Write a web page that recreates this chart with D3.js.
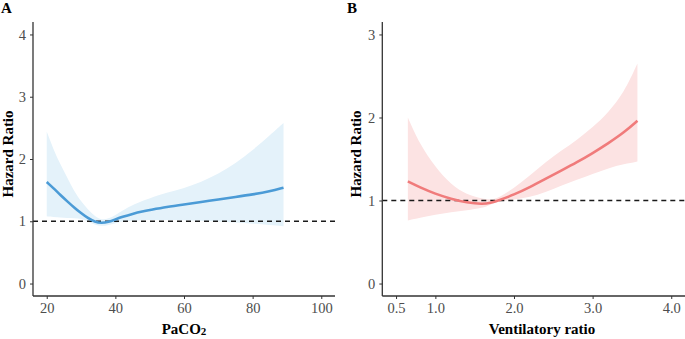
<!DOCTYPE html>
<html>
<head>
<meta charset="utf-8">
<script src="https://cdn.jsdelivr.net/npm/d3@7"></script>
<style>
  html, body { margin: 0; padding: 0; background: #fff; }
  svg { display: block; }
</style>
</head>
<body>
<svg id="chart" width="685" height="339"></svg>
<script>
// ---- Panel A data (PaCO2) ----
const paco2X     = [20, 22, 24, 26, 28, 30, 32, 34, 36, 38, 40, 42, 45, 48, 50, 55, 60, 65, 70, 75, 80, 85, 89];
const paco2HR    = [1.63, 1.53, 1.42, 1.32, 1.22, 1.13, 1.05, 0.99, 0.97, 0.99, 1.03, 1.07, 1.12, 1.16, 1.18, 1.23, 1.27, 1.31, 1.35, 1.39, 1.43, 1.48, 1.54];
const paco2Lower = [1.08, 1.07, 1.06, 1.05, 1.05, 1.04, 1.00, 0.94, 0.92, 0.94, 0.97, 1.00, 1.01, 1.02, 1.02, 1.02, 1.02, 1.01, 1.00, 0.98, 0.96, 0.94, 0.92];
const paco2Upper = [2.44, 2.15, 1.91, 1.70, 1.48, 1.32, 1.19, 1.08, 1.02, 1.04, 1.10, 1.17, 1.26, 1.33, 1.37, 1.46, 1.53, 1.63, 1.76, 1.93, 2.14, 2.38, 2.58];
const paco2XTicks = [20, 40, 60, 80, 100];
const paco2YTicks = [0, 1, 2, 3, 4];

// ---- Panel B data (Ventilatory ratio) ----
const vrX     = [0.65, 0.8, 1.0, 1.2, 1.4, 1.6, 1.7, 1.8, 2.0, 2.2, 2.4, 2.6, 2.8, 3.0, 3.2, 3.4, 3.57];
const vrHR    = [1.23, 1.16, 1.08, 1.02, 0.975, 0.955, 0.97, 1.00, 1.07, 1.16, 1.26, 1.36, 1.46, 1.57, 1.69, 1.82, 1.96];
const vrLower = [0.76, 0.79, 0.83, 0.86, 0.88, 0.91, 0.95, 0.99, 1.01, 1.04, 1.10, 1.18, 1.25, 1.32, 1.39, 1.44, 1.47];
const vrUpper = [2.00, 1.68, 1.40, 1.19, 1.07, 1.02, 1.01, 1.03, 1.15, 1.30, 1.46, 1.60, 1.73, 1.88, 2.06, 2.30, 2.65];
const vrXTicks = [0.5, 1.0, 2.0, 3.0, 4.0];
const vrYTicks = [0, 1, 2, 3];

const svg = d3.select("#chart");
const fontFamily = "'Liberation Serif', 'Times New Roman', serif";
const curve = d3.curveBasis;

function panel(opts) {
  const x = d3.scaleLinear().domain(opts.xDomain).range(opts.xRange);
  const y = d3.scaleLinear().domain(opts.yDomain).range([296, 22]);
  const g = svg.append("g");

  const rows = opts.xs.map((v, i) => ({ x: v, hr: opts.hr[i], lo: opts.lo[i], hi: opts.hi[i] }));

  // CI ribbon
  g.append("path")
    .datum(rows)
    .attr("fill", opts.fill)
    .attr("d", d3.area().curve(curve)
      .x(d => x(d.x)).y0(d => y(d.lo)).y1(d => y(d.hi)));

  // reference line at HR = 1
  g.append("line")
    .attr("x1", opts.xRange[0]).attr("x2", opts.xRange[1])
    .attr("y1", y(1)).attr("y2", y(1))
    .attr("stroke", "#1a1a1a").attr("stroke-width", 1.6)
    .attr("stroke-dasharray", "5,4");

  // HR line
  g.append("path")
    .datum(rows)
    .attr("fill", "none")
    .attr("stroke", opts.stroke)
    .attr("stroke-width", 2.6)
    .attr("d", d3.line().curve(curve).x(d => x(d.x)).y(d => y(d.hr)));

  // axes
  const xAxis = g.append("g").attr("transform", `translate(0,296)`)
    .call(d3.axisBottom(x).tickValues(opts.xTicks).tickFormat(opts.xFmt).tickSize(3).tickPadding(4));
  const yAxis = g.append("g").attr("transform", `translate(${opts.xRange[0]},0)`)
    .call(d3.axisLeft(y).tickValues(opts.yTicks).tickFormat(d3.format("d")).tickSize(3).tickPadding(4));
  [xAxis, yAxis].forEach(a => {
    a.select(".domain").attr("stroke", "#333").attr("stroke-width", 1.3);
    a.selectAll(".tick line").attr("stroke", "#333");
    a.selectAll(".tick text").attr("fill", "#4d4d4d")
      .style("font-family", fontFamily).style("font-size", "14.5px");
  });
  xAxis.select(".domain").attr("d", `M${opts.xRange[0]},0H${opts.xRange[1]}`);
  yAxis.select(".domain").attr("d", `M0,296V22`);

  // y title
  g.append("text")
    .attr("transform", `translate(${opts.yTitleX},154) rotate(-90)`)
    .attr("text-anchor", "middle")
    .style("font-family", fontFamily).style("font-size", "15px").style("font-weight", "bold")
    .attr("fill", "#000")
    .text("Hazard Ratio");

  // panel letter
  g.append("text")
    .attr("x", opts.letterX).attr("y", 13)
    .style("font-family", fontFamily).style("font-size", "15px").style("font-weight", "bold")
    .attr("fill", "#000")
    .text(opts.letter);

  // x title
  const xt = g.append("text")
    .attr("x", opts.xTitleX).attr("y", 334)
    .attr("text-anchor", "middle")
    .style("font-family", fontFamily).style("font-size", "15px").style("font-weight", "bold")
    .attr("fill", "#000");
  opts.xTitle(xt);
}

panel({
  xs: paco2X, hr: paco2HR, lo: paco2Lower, hi: paco2Upper,
  xDomain: [16, 104], xRange: [33, 335],
  yDomain: [-0.2, 4.2],
  xTicks: paco2XTicks, yTicks: paco2YTicks, xFmt: d3.format("d"),
  fill: "#e4f2fa", stroke: "#4b9bd6",
  yTitleX: 13, letter: "A", letterX: 1, xTitleX: 184,
  xTitle: t => { t.append("tspan").text("PaCO"); t.append("tspan").attr("dy", 1).style("font-size", "11px").text("2"); }
});

panel({
  xs: vrX, hr: vrHR, lo: vrLower, hi: vrUpper,
  xDomain: [0.325, 4.175], xRange: [382.3, 685],
  yDomain: [-0.15, 3.15],
  xTicks: vrXTicks, yTicks: vrYTicks, xFmt: d3.format(".1f"),
  fill: "#fce3e3", stroke: "#f07b7b",
  yTitleX: 361, letter: "B", letterX: 347, xTitleX: 542,
  xTitle: t => t.text("Ventilatory ratio")
});
</script>
</body>
</html>
